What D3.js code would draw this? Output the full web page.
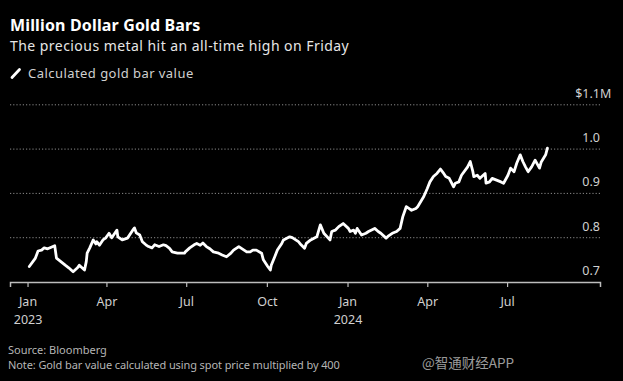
<!DOCTYPE html>
<html>
<head>
<meta charset="utf-8">
<script src="https://cdn.jsdelivr.net/npm/d3@7"></script>
<style>
  html, body { margin: 0; padding: 0; background: #000; }
  svg { display: block; }
</style>
</head>
<body>
<div id="chart"></div>
<script>
// ---------- DATA ----------
const title = "Million Dollar Gold Bars";
const subtitle = "The precious metal hit an all-time high on Friday";
const seriesName = "Calculated gold bar value";
const sourceText = "Source: Bloomberg";
const noteText = "Note: Gold bar value calculated using spot price multiplied by 400";
const watermark = "@智通财经APP";

const dates2023 = [
  "2023-01-03","2023-01-10","2023-01-13","2023-01-17","2023-01-20","2023-01-24","2023-02-01","2023-02-03","2023-02-08","2023-02-13",
  "2023-02-17","2023-02-22","2023-02-27","2023-03-01","2023-03-07","2023-03-09","2023-03-10","2023-03-13","2023-03-17","2023-03-20",
  "2023-03-21","2023-03-24","2023-03-28","2023-03-31","2023-04-04","2023-04-07","2023-04-13","2023-04-14","2023-04-19","2023-04-25",
  "2023-05-01","2023-05-03","2023-05-05","2023-05-09","2023-05-12","2023-05-16","2023-05-19","2023-05-23","2023-05-26","2023-05-31",
  "2023-06-05","2023-06-08","2023-06-12","2023-06-15","2023-06-21","2023-06-29","2023-06-30","2023-07-05","2023-07-10","2023-07-13",
  "2023-07-17","2023-07-20","2023-07-24","2023-07-28","2023-08-01","2023-08-07","2023-08-11","2023-08-16","2023-08-21","2023-08-24",
  "2023-08-30","2023-09-05","2023-09-08","2023-09-12","2023-09-15","2023-09-19","2023-09-25","2023-09-27","2023-10-02","2023-10-05",
  "2023-10-06","2023-10-10","2023-10-13","2023-10-18","2023-10-20","2023-10-27","2023-10-30","2023-11-06","2023-11-09","2023-11-13",
  "2023-11-15","2023-11-20","2023-11-27","2023-12-01","2023-12-05","2023-12-12","2023-12-14","2023-12-18","2023-12-22","2023-12-27"
];
const values2023 = [
  0.735,0.754,0.770,0.772,0.777,0.775,0.782,0.754,0.746,0.738,
  0.732,0.723,0.732,0.738,0.727,0.746,0.765,0.777,0.795,0.786,
  0.791,0.783,0.795,0.799,0.810,0.800,0.817,0.802,0.795,0.799,
  0.817,0.822,0.811,0.806,0.791,0.784,0.780,0.777,0.784,0.780,
  0.784,0.782,0.776,0.768,0.765,0.765,0.768,0.777,0.784,0.787,
  0.783,0.788,0.780,0.775,0.768,0.765,0.761,0.757,0.765,0.772,
  0.780,0.772,0.768,0.768,0.772,0.772,0.765,0.750,0.735,0.727,
  0.738,0.757,0.772,0.787,0.795,0.802,0.800,0.791,0.784,0.776,
  0.787,0.795,0.802,0.829,0.810,0.795,0.814,0.817,0.825,0.832
];
const dates2024 = [
  "2024-01-02","2024-01-04","2024-01-08","2024-01-10","2024-01-12","2024-01-17","2024-01-22","2024-01-25","2024-02-01","2024-02-05",
  "2024-02-08","2024-02-14","2024-02-16","2024-02-21","2024-02-26","2024-03-01","2024-03-04","2024-03-08","2024-03-11","2024-03-14",
  "2024-03-19","2024-03-21","2024-03-28","2024-04-01","2024-04-04","2024-04-08","2024-04-12","2024-04-16","2024-04-19","2024-04-22",
  "2024-04-26","2024-05-01","2024-05-03","2024-05-07","2024-05-10","2024-05-17","2024-05-20","2024-05-23","2024-05-24","2024-05-28",
  "2024-05-31","2024-06-06","2024-06-07","2024-06-11","2024-06-14","2024-06-19","2024-06-24","2024-06-27","2024-07-02","2024-07-05",
  "2024-07-09","2024-07-12","2024-07-16","2024-07-19","2024-07-22","2024-07-25","2024-07-29","2024-08-02","2024-08-07","2024-08-09",
  "2024-08-14","2024-08-16"
];
const values2024 = [
  0.821,0.814,0.817,0.810,0.821,0.806,0.810,0.814,0.821,0.814,
  0.810,0.799,0.803,0.810,0.814,0.821,0.847,0.870,0.866,0.862,
  0.866,0.870,0.893,0.911,0.926,0.938,0.945,0.955,0.947,0.938,
  0.934,0.915,0.923,0.926,0.941,0.960,0.972,0.949,0.938,0.941,
  0.934,0.945,0.923,0.926,0.934,0.930,0.926,0.923,0.941,0.957,
  0.949,0.968,0.987,0.972,0.960,0.949,0.960,0.975,0.957,0.971,
  0.987,1.002
];

const xTickDates = ["2023-01-01","2023-04-01","2023-07-01","2023-10-01","2024-01-01","2024-04-01","2024-07-01"];
const xTickLabels = ["Jan","Apr","Jul","Oct","Jan","Apr","Jul"];
const xTickYears  = ["2023","","","","2024","",""];
const yTickValues = [0.7, 0.8, 0.9, 1.0, 1.1];
const yTickLabels = ["0.7","0.8","0.9","1.0","$1.1M"];

// ---------- SETUP ----------
const W = 623, H = 381;
const parse = d3.utcParse("%Y-%m-%d");
const allValues = values2023.concat(values2024);
const data = dates2023.concat(dates2024).map((d, i) => ({
  date: parse(d),
  value: allValues[i]
}));

const svg = d3.select("#chart").append("svg")
  .attr("width", W).attr("height", H)
  .style("background", "#000");

const FONT = "'Noto Sans', 'Open Sans', sans-serif";

const x = d3.scaleUtc()
  .domain([parse("2022-12-12"), parse("2024-10-15")])
  .range([10, 600]);
const y = d3.scaleLinear()
  .domain([0.7, 1.1])
  .range([282, 104.8]);

// ---------- TITLES ----------
svg.append("text").attr("x", 10).attr("y", 31)
  .attr("font-family", FONT).attr("font-weight", 700).attr("font-size", 16)
  .attr("letter-spacing", 0.15)
  .attr("fill", "#fff").text(title);
svg.append("text").attr("x", 10).attr("y", 51)
  .attr("font-family", FONT).attr("font-size", 14)
  .attr("letter-spacing", 0.45)
  .attr("fill", "#e6e6e6").text(subtitle);

// legend
svg.append("line").attr("x1", 12).attr("y1", 77.5).attr("x2", 19.5).attr("y2", 69.5)
  .attr("stroke", "#fff").attr("stroke-width", 2.8).attr("stroke-linecap", "round");
svg.append("text").attr("x", 28).attr("y", 78)
  .attr("font-family", FONT).attr("font-size", 13)
  .attr("letter-spacing", 0.45)
  .attr("fill", "#d0d0d0").text(seriesName);

// ---------- GRID ----------
const grid = svg.append("g");
grid.selectAll("line").data(yTickValues.filter(v => v > 0.7)).join("line")
  .attr("x1", 10).attr("x2", 600)
  .attr("y1", d => y(d)).attr("y2", d => y(d))
  .attr("stroke", "#8a8a8a").attr("stroke-width", 1)
  .attr("stroke-dasharray", "1.2,2");

// y labels
const yl = svg.append("g");
yTickValues.forEach((v, i) => {
  const t = yl.append("text")
    .attr("y", y(v) - 7)
    .attr("font-family", FONT).attr("font-size", 12.5)
    .attr("fill", "#d0d0d0").attr("text-anchor", "end")
    .text(yTickLabels[i]);
  let xr = 600;
  if (yTickLabels[i].endsWith("M")) {
    const tmp = yl.append("text").attr("font-family", FONT).attr("font-size", 12.5).text("M");
    xr += tmp.node().getComputedTextLength();
    tmp.remove();
  }
  t.attr("x", xr);
});

// ---------- X AXIS ----------
const tickDates = xTickDates.map(parse);
const xAxis = d3.axisBottom(x).tickValues(tickDates).tickSize(5).tickFormat("");
const ax = svg.append("g").attr("transform", "translate(0,282)").call(xAxis);
ax.select(".domain").attr("stroke", "#bdbdbd").attr("stroke-width", 1.5);
ax.selectAll(".tick line").attr("stroke", "#bdbdbd").attr("stroke-width", 1.2);
ax.selectAll(".tick").each(function(d, i) {
  const g = d3.select(this);
  g.append("text").attr("y", 24).attr("fill", "#d0d0d0")
    .attr("font-family", FONT).attr("font-size", 12.5).attr("text-anchor", "middle")
    .text(xTickLabels[i]);
  if (xTickYears[i]) {
    g.append("text").attr("y", 41.5).attr("fill", "#d0d0d0")
      .attr("font-family", FONT).attr("font-size", 12.5).attr("text-anchor", "middle")
      .text(xTickYears[i]);
  }
});

// ---------- LINE ----------
const line = d3.line().x(d => x(d.date)).y(d => y(d.value)).curve(d3.curveLinear);
svg.append("path").datum(data)
  .attr("d", line)
  .attr("fill", "none").attr("stroke", "#fff")
  .attr("stroke-width", 2.8).attr("stroke-linejoin", "round").attr("stroke-linecap", "round");

// ---------- FOOTER ----------
svg.append("text").attr("x", 8).attr("y", 354)
  .attr("font-family", FONT).attr("font-size", 11)
  .attr("fill", "#b5b5b5").text(sourceText);
svg.append("text").attr("x", 8).attr("y", 369)
  .attr("font-family", FONT).attr("font-size", 11)
  .attr("letter-spacing", -0.1)
  .attr("fill", "#b5b5b5").text(noteText);
svg.append("text").attr("x", 422).attr("y", 368)
  .attr("font-family", "'Noto Sans CJK SC', 'Noto Sans', sans-serif").attr("font-size", 13.5)
  .attr("fill", "#cfcfcf").attr("opacity", 0.75).text(watermark);
</script>
</body>
</html>
